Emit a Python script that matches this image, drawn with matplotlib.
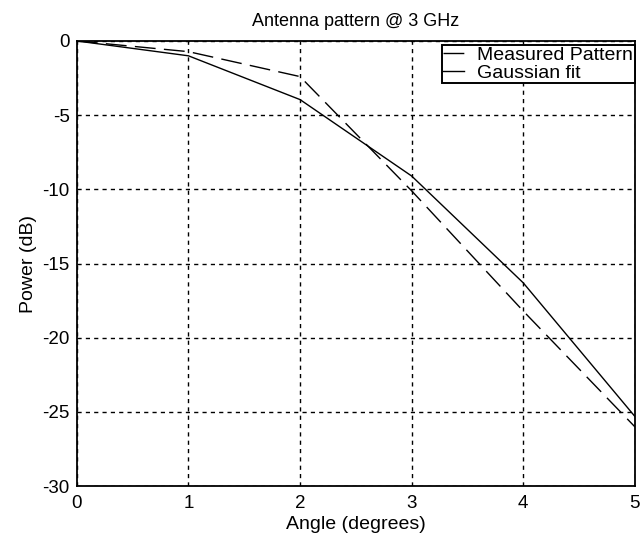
import matplotlib
matplotlib.use('Agg')
import matplotlib.pyplot as plt

plt.rcParams['font.family'] = ['Liberation Sans', 'DejaVu Sans']
plt.rcParams['axes.unicode_minus'] = False

angle = [0, 1, 2, 3, 4, 5]
measured = [0, -0.72, -2.4, -10.1, -18.2, -26.0]
gaussian = [0, -1.0, -3.95, -9.1, -16.3, -25.3]

fig = plt.figure(figsize=(6.4, 5.39), dpi=100)
ax = fig.add_axes([0.12, 0.098, 0.872, 0.826])

ax.plot(angle, measured, color='black', lw=1.0, linestyle=(0, (15, 6)), label='Measured Pattern')
ax.plot(angle, gaussian, color='black', lw=1.0, label='Gaussian fit')

ax.set_xlim(0, 5)
ax.set_ylim(-30, 0)
ax.set_xticks([0, 1, 2, 3, 4, 5])
ax.set_yticks([-30, -25, -20, -15, -10, -5, 0])
ax.grid(True, color='black', linestyle=(0, (3, 3)), lw=1.0)
ax.tick_params(direction='in', length=0, labelsize=13.5)
ax.tick_params(axis='x', pad=6)
ax.tick_params(axis='y', pad=5)
for s in ax.spines.values():
    s.set_linewidth(1.3)

ax.set_title('Antenna pattern @ 3 GHz', fontsize=13, pad=11)
ax.set_xlabel('Angle (degrees)', fontsize=14, labelpad=3)
ax.set_ylabel('Power (dB)', fontsize=14, labelpad=4)

leg = ax.legend(loc='upper right', bbox_to_anchor=(1.0, 0.991), fontsize=14,
                handlelength=1.05, handletextpad=0.7, borderpad=0.08,
                labelspacing=0.0, borderaxespad=0, fancybox=False, framealpha=1)
leg.get_frame().set_edgecolor('black')
leg.get_frame().set_linewidth(1.4)

plt.savefig('out.png', dpi=100)
